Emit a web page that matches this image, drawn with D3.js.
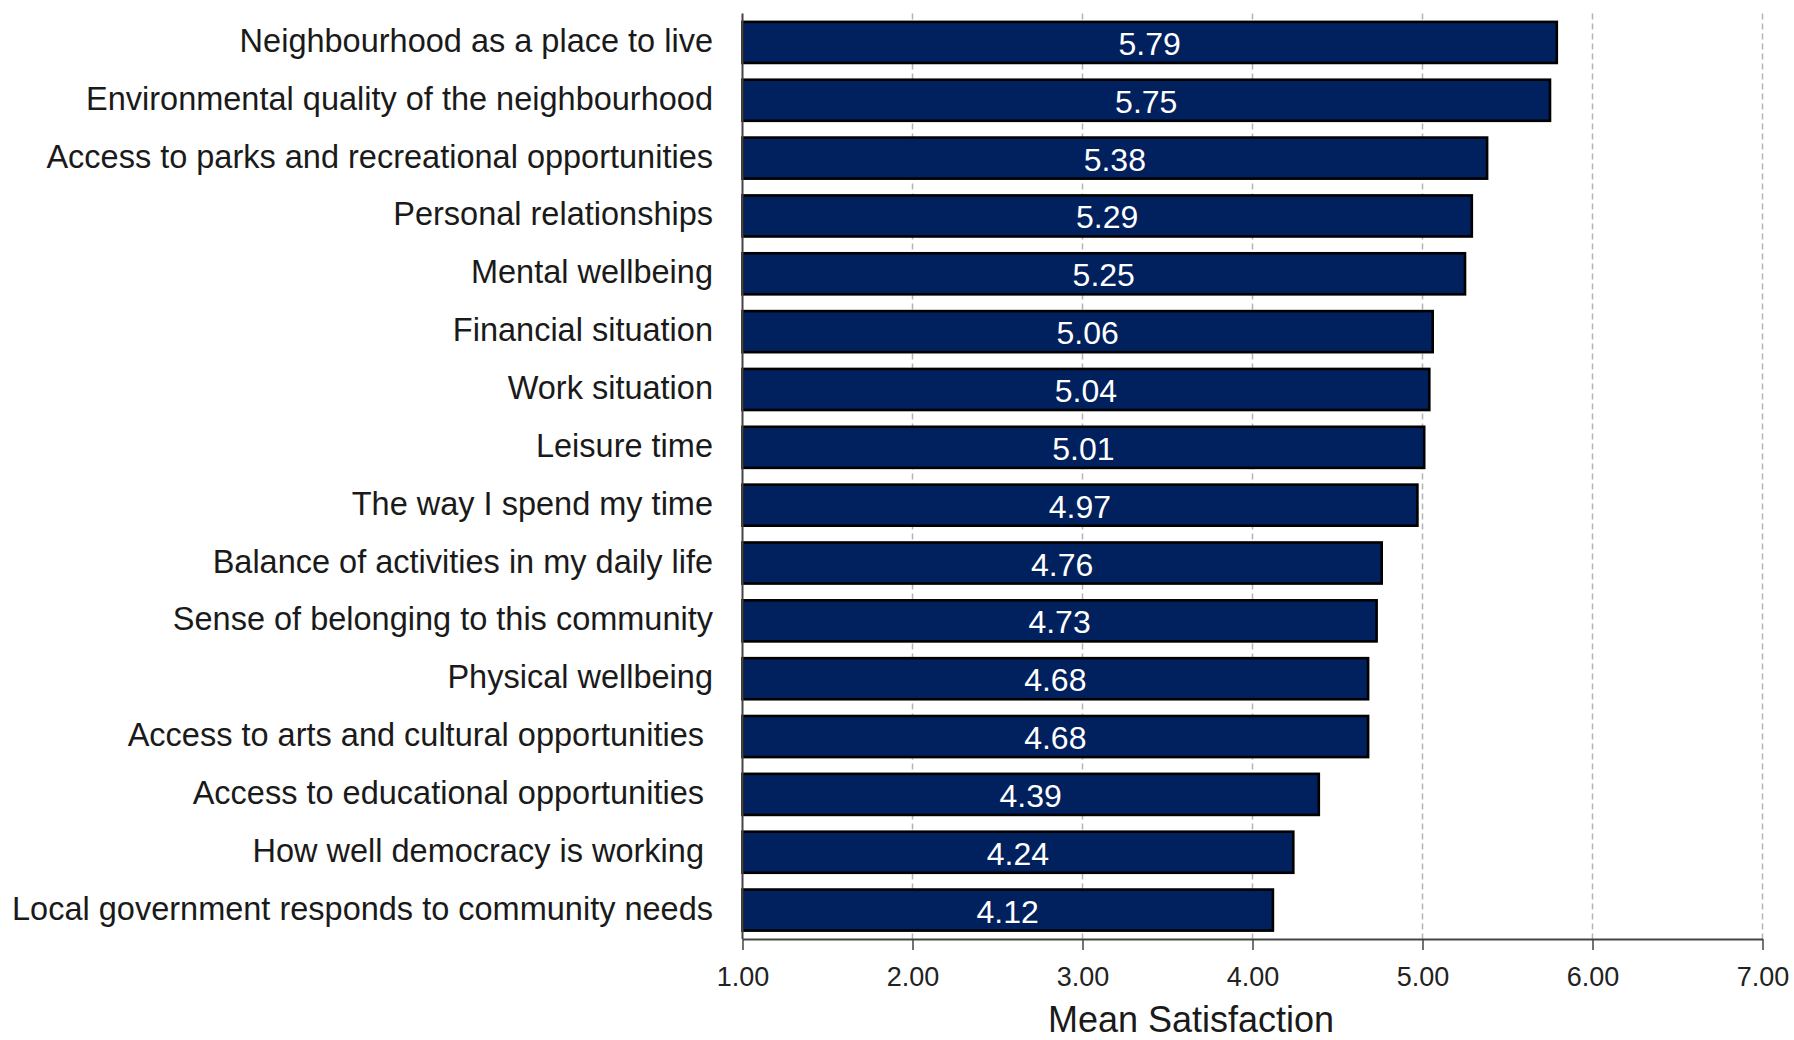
<!DOCTYPE html>
<html>
<head>
<meta charset="utf-8">
<script src="https://cdn.jsdelivr.net/npm/d3@7"></script>
<style>
  html, body { margin: 0; padding: 0; background: #fff; }
  svg { display: block; font-family: "Liberation Sans", Arial, sans-serif; }
</style>
</head>
<body>
<svg id="chart" width="1794" height="1040"></svg>
<script>
const categories = [
  "Neighbourhood as a place to live",
  "Environmental quality of the neighbourhood",
  "Access to parks and recreational opportunities",
  "Personal relationships",
  "Mental wellbeing",
  "Financial situation",
  "Work situation",
  "Leisure time",
  "The way I spend my time",
  "Balance of activities in my daily life",
  "Sense of belonging to this community",
  "Physical wellbeing",
  "Access to arts and cultural opportunities ",
  "Access to educational opportunities ",
  "How well democracy is working ",
  "Local government responds to community needs"
];
const values = [5.79, 5.75, 5.38, 5.29, 5.25, 5.06, 5.04, 5.01, 4.97, 4.76, 4.73, 4.68, 4.68, 4.39, 4.24, 4.12];
const xTicks = [1, 2, 3, 4, 5, 6, 7];
const xTitle = "Mean Satisfaction";

(function () {
const svg = d3.select("#chart");
const pLeft = 742.5, pRight = 1762.5, pTop = 13.5, pBottom = 939;

const x = d3.scaleLinear().domain([1, 7]).range([pLeft, pRight]);
const y = d3.scaleBand().domain(categories).range([pTop, pBottom])
  .paddingInner(0.29).paddingOuter(0.145);

// gridlines
svg.append("g").selectAll("line").data(xTicks.slice(1)).join("line")
  .attr("x1", d => x(d)).attr("x2", d => x(d))
  .attr("y1", pTop).attr("y2", pBottom)
  .attr("stroke", "#b3b3b3").attr("stroke-width", 1.5)
  .attr("stroke-dasharray", "6,4");

// bars
svg.append("g").selectAll("rect").data(categories).join("rect")
  .attr("x", x(1))
  .attr("y", d => y(d))
  .attr("width", (d, i) => x(values[i]) - x(1))
  .attr("height", y.bandwidth())
  .attr("fill", "#01215e")
  .attr("stroke", "#000")
  .attr("stroke-width", 2.6);

// value labels
svg.append("g").selectAll("text").data(categories).join("text")
  .attr("x", (d, i) => (x(1) + x(values[i])) / 2)
  .attr("y", d => y(d) + y.bandwidth() / 2 + 12.5)
  .attr("text-anchor", "middle")
  .attr("fill", "#fff")
  .attr("font-size", 32)
  .text((d, i) => d3.format(".2f")(values[i]));

// category labels
svg.append("g").selectAll("text").data(categories).join("text")
  .attr("x", 713)
  .attr("y", d => y(d) + y.bandwidth() / 2 + 9.5)
  .attr("text-anchor", "end")
  .attr("fill", "#1a1a1a")
  .attr("font-size", 32.5)
  .style("white-space", "pre")
  .text(d => d);

// x axis
const xAxis = d3.axisBottom(x).tickValues(xTicks).tickFormat(d3.format(".2f"))
  .tickSize(11).tickPadding(17).tickSizeOuter(0);
const gx = svg.append("g").attr("transform", `translate(0,${pBottom})`).call(xAxis);
gx.select(".domain").attr("stroke", "#444").attr("stroke-width", 2);
gx.selectAll(".tick line").attr("stroke", "#444").attr("stroke-width", 1.5);
gx.selectAll(".tick text").attr("font-size", 27).attr("fill", "#222")
  .attr("font-family", "Liberation Sans, Arial, sans-serif");

// y axis line
svg.append("line")
  .attr("x1", pLeft).attr("x2", pLeft).attr("y1", pTop).attr("y2", pBottom)
  .attr("stroke", "#444").attr("stroke-width", 2);

// x title
svg.append("text")
  .attr("x", 1191).attr("y", 1032)
  .attr("text-anchor", "middle")
  .attr("font-size", 36)
  .attr("fill", "#1a1a1a")
  .text(xTitle);
})();
</script>
</body>
</html>
